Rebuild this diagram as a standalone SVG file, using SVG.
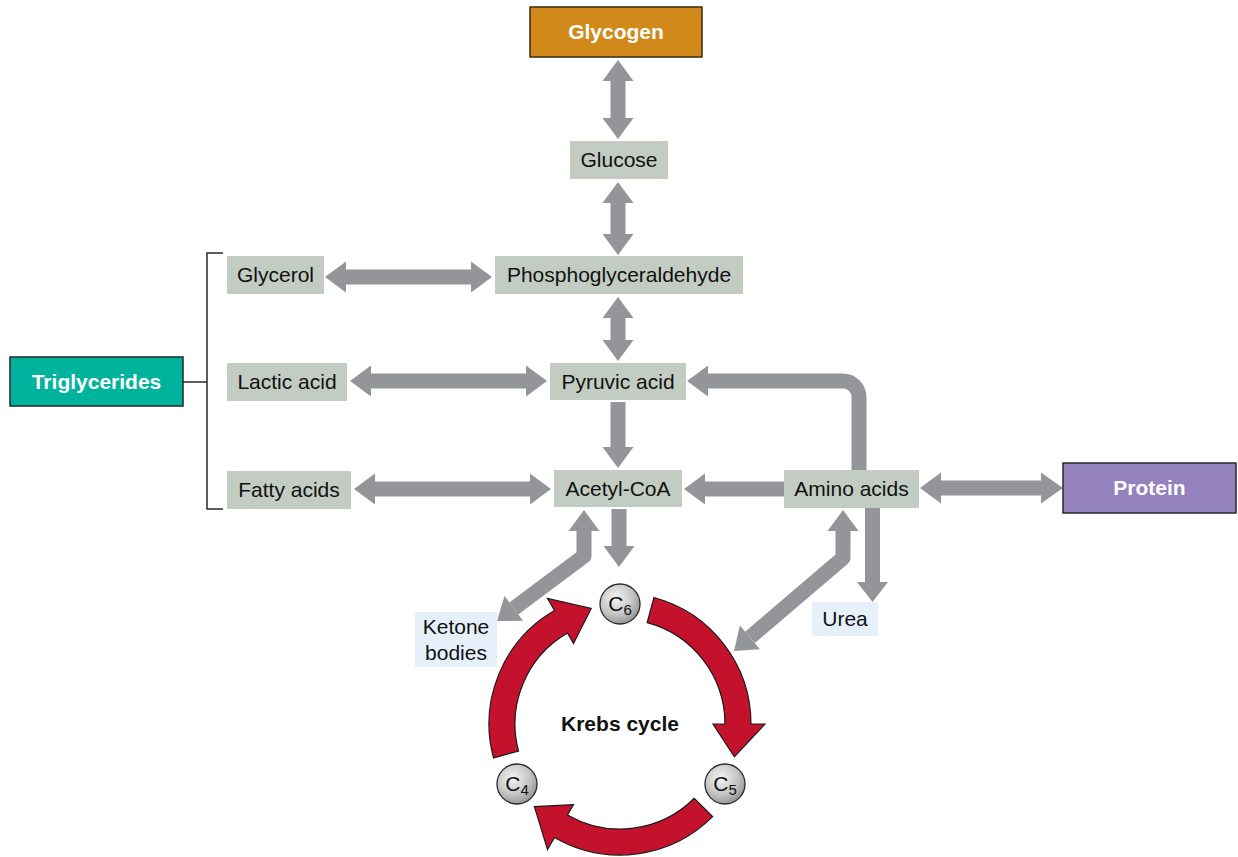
<svg xmlns="http://www.w3.org/2000/svg" width="1238" height="857" viewBox="0 0 1238 857">
<defs>
<radialGradient id="ball" cx="0.4" cy="0.35" r="0.7">
<stop offset="0" stop-color="#f4f4f4"/>
<stop offset="0.6" stop-color="#c4c4c6"/>
<stop offset="1" stop-color="#8e8f92"/>
</radialGradient>
<path id="karc" d="M 653.9 597.5 A 131 131 0 0 1 751 724 L 765 724 L 734.4 756.8 L 713 724 L 725 724 A 105 105 0 0 0 647.2 622.6 Z"/>
</defs>
<style>
.box{fill:#c3ccc2}
.blue{fill:#e6f0fa}
.t{font-family:"Liberation Sans",Arial,sans-serif;font-size:21px;fill:#111;text-anchor:middle}
.tb{font-family:"Liberation Sans",Arial,sans-serif;font-size:21px;font-weight:bold;fill:#fff;text-anchor:middle}
.arr{fill:#939598}
.shaft{fill:none;stroke:#939598;stroke-width:15;stroke-linejoin:round}
.red{fill:#c4122d;stroke:#1a1a1a;stroke-width:1.2}
.ball{fill:url(#ball);stroke:#2a2a2a;stroke-width:1.3}
.ct{font-family:"Liberation Sans",Arial,sans-serif;font-size:21px;fill:#111;text-anchor:middle}
</style>
<rect width="1238" height="857" fill="#fff"/>

<g id="connectors">
<polygon class="arr" points="618,60 633.5,81 625.5,81 625.5,118 633.5,118 618,139 602.5,118 610.5,118 610.5,81 602.5,81"/>
<polygon class="arr" points="618,182 633.5,203 625.5,203 625.5,234 633.5,234 618,255 602.5,234 610.5,234 610.5,203 602.5,203"/>
<polygon class="arr" points="618,297 633.5,318 625.5,318 625.5,340 633.5,340 618,361 602.5,340 610.5,340 610.5,318 602.5,318"/>
<polygon class="arr" points="610.5,402 625.5,402 625.5,447 633.5,447 618,468 602.5,447 610.5,447"/>
<polygon class="arr" points="611.5,509 626.5,509 626.5,546 634.5,546 619,567 603.5,546 611.5,546"/>
<polygon class="arr" points="325,277 346,261.5 346,269.5 471,269.5 471,261.5 492,277 471,292.5 471,284.5 346,284.5 346,292.5"/>
<polygon class="arr" points="350,381 371,365.5 371,373.5 526,373.5 526,365.5 547,381 526,396.5 526,388.5 371,388.5 371,396.5"/>
<polygon class="arr" points="354,489 375,473.5 375,481.5 530,481.5 530,473.5 551,489 530,504.5 530,496.5 375,496.5 375,504.5"/>
<polygon class="arr" points="684,489 705,473.5 705,481.5 785,481.5 785,496.5 705,496.5 705,504.5"/>
<polygon class="arr" points="920,488 941,472.5 941,480.5 1041,480.5 1041,472.5 1063,488 1041,503.5 1041,495.5 941,495.5 941,503.5"/>
<path class="shaft" d="M859,472 V397 A16 16 0 0 0 843 381 H707"/>
<polygon class="arr" points="687,381 708,365.5 708,396.5"/>
<polygon class="arr" points="865,506 880,506 880,582 888,582 872.5,602 857,582 865,582"/>
<polygon class="arr" points="584,510 599.5,531 568.5,531"/>
<path class="shaft" d="M584,530 L584,556 L513.8,608.4"/>
<polygon class="arr" points="497,621 523.1,620.85 504.5,596"/>
<polygon class="arr" points="843,510 858.5,531 827.5,531"/>
<path class="shaft" d="M843,530 L843,558 L750,637.4"/>
<polygon class="arr" points="734,651 760,649.2 739.9,625.6"/>
<path d="M223,253 H207 V509 H223 M183,382 H207" fill="none" stroke="#2a2a2a" stroke-width="1.5"/>
</g>

<g id="krebs">
<use href="#karc" class="red"/>
<use href="#karc" class="red" transform="rotate(120 620 724)"/>
<use href="#karc" class="red" transform="rotate(240 620 724)"/>
<text class="t" x="620" y="731" font-weight="bold">Krebs cycle</text>
</g>

<g id="c6"><circle class="ball" cx="620" cy="604" r="20"/><text class="ct" x="620" y="611">C<tspan font-size="15" dy="4">6</tspan></text></g>
<g id="c5"><circle class="ball" cx="725" cy="784" r="20"/><text class="ct" x="725" y="791">C<tspan font-size="15" dy="4">5</tspan></text></g>
<g id="c4"><circle class="ball" cx="517" cy="784" r="20"/><text class="ct" x="517" y="791">C<tspan font-size="15" dy="4">4</tspan></text></g>

<g id="glycogen"><rect x="530" y="7" width="172" height="50" fill="#d0891a" stroke="#3a2a10" stroke-width="1.5"/><text class="tb" x="616" y="39">Glycogen</text></g>
<g id="glucose"><rect class="box" x="570" y="141" width="98" height="38"/><text class="t" x="619" y="167">Glucose</text></g>
<g id="phospho"><rect class="box" x="495" y="256" width="248" height="38"/><text class="t" x="619" y="282">Phosphoglyceraldehyde</text></g>
<g id="glycerol"><rect class="box" x="227" y="256" width="97" height="38"/><text class="t" x="275.5" y="282">Glycerol</text></g>
<g id="lactic"><rect class="box" x="227" y="363" width="120" height="38"/><text class="t" x="287" y="389">Lactic acid</text></g>
<g id="pyruvic"><rect class="box" x="550" y="363" width="136" height="37"/><text class="t" x="618" y="388.5">Pyruvic acid</text></g>
<g id="fatty"><rect class="box" x="227" y="471" width="124" height="38"/><text class="t" x="289" y="497">Fatty acids</text></g>
<g id="acetyl"><rect class="box" x="554" y="470" width="128" height="37"/><text class="t" x="618" y="495.5">Acetyl-CoA</text></g>
<g id="amino"><rect class="box" x="784" y="470" width="135" height="38"/><text class="t" x="851.5" y="496">Amino acids</text></g>
<g id="protein"><rect x="1063" y="463" width="173" height="50" fill="#9482be" stroke="#2a2a2a" stroke-width="1.5"/><text class="tb" x="1149.5" y="495">Protein</text></g>
<g id="triglycerides"><rect x="10" y="357" width="173" height="49" fill="#00b39c" stroke="#1f2a28" stroke-width="1.5"/><text class="tb" x="96.5" y="389">Triglycerides</text></g>
<g id="urea"><rect class="blue" x="812" y="602" width="66" height="34"/><text class="t" x="845" y="626">Urea</text></g>
<g id="ketone"><rect class="blue" x="415" y="612" width="82" height="55"/><text class="t" x="456" y="634">Ketone</text><text class="t" x="456" y="660">bodies</text></g>
</svg>
